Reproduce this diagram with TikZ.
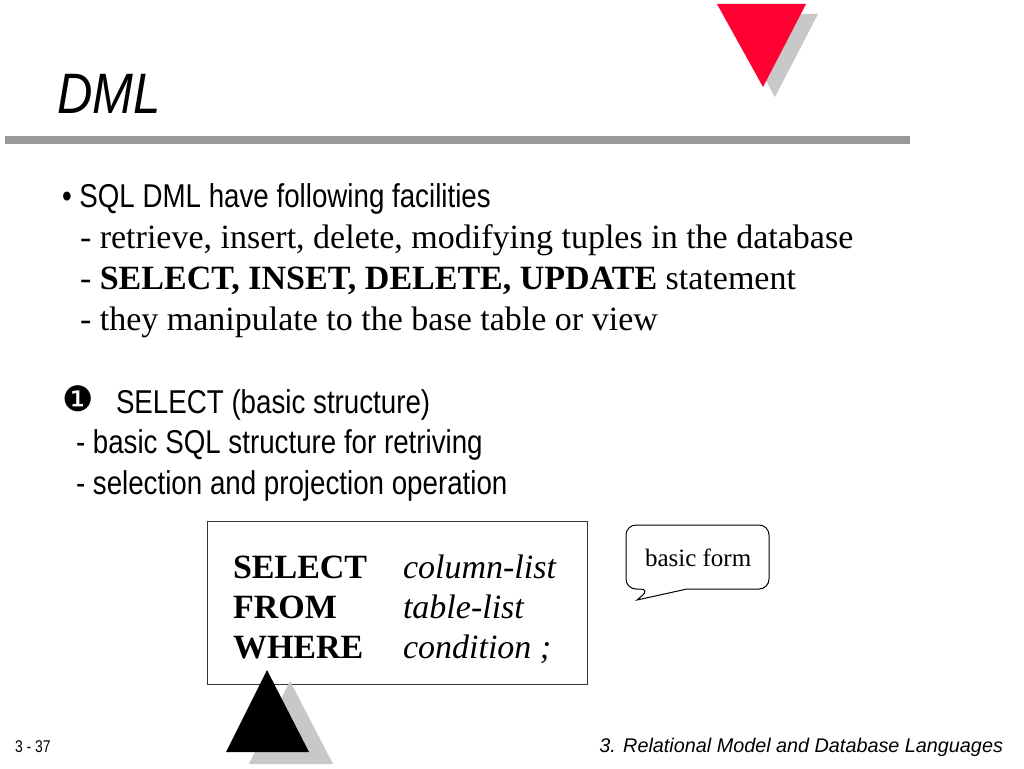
\documentclass[tikz,border=0pt]{standalone}
\usepackage{fontspec}
\setmainfont{Liberation Serif}
\newfontfamily\sansf{Liberation Sans}
\newfontfamily\titlef[FakeStretch=0.86]{Liberation Sans}
\newfontfamily\narrowf[FakeStretch=0.84]{Liberation Sans}
\newfontfamily\footf[FakeStretch=0.82]{Liberation Sans}
\newfontfamily\dingf{DejaVu Sans}
\definecolor{slidered}{HTML}{FF0033}
\definecolor{shadowgray}{HTML}{C8C8C8}
\definecolor{rulegray}{HTML}{999999}
\begin{document}
\begin{tikzpicture}[x=1pt,y=-1pt,
  txt/.style={anchor=base west,inner sep=0pt,outer sep=0pt},
  narrowtxt/.style={txt,font=\narrowf\fontsize{33}{38}\selectfont},
  seriftxt/.style={txt,font=\fontsize{34}{40}\selectfont},
  keytxt/.style={txt,font=\bfseries\fontsize{34}{40}\selectfont},
  valtxt/.style={txt,font=\itshape\fontsize{34}{40}\selectfont},
  foot/.style={txt,font=\footf\fontsize{17}{20}\selectfont}]
\useasboundingbox (0,0) rectangle (1024,768);
\fill[white] (0,0) rectangle (1024,768);
% title and rule
\node[txt,font=\titlef\itshape\fontsize{57}{60}\selectfont] (title) at (57,113) {DML};
\fill[rulegray] (5,136) rectangle (910,144);
% red triangle with shadow
\fill[shadowgray] (729,14) -- (818,14) -- (775,97) -- cycle;
\fill[slidered] (717,4) -- (806,4) -- (763,87) -- cycle;
% bullet section
\node[narrowtxt] (b1) at (62,207) {\textbullet\ SQL DML have following facilities};
\node[seriftxt] (l1) at (80,248) {- retrieve, insert, delete, modifying tuples in the database};
\node[seriftxt] (l2) at (80,289) {- \textbf{SELECT, INSET, DELETE, UPDATE} statement};
\node[seriftxt] (l3) at (80,330) {- they manipulate to the base table or view};
% select section
\node[txt,font=\dingf\fontsize{35}{38}\selectfont] (num) at (62,411) {❶};
\node[narrowtxt] (s1) at (116,413) {SELECT (basic structure)};
\node[narrowtxt] (s2) at (76,453) {- basic SQL structure for retriving};
\node[narrowtxt] (s3) at (76,494) {- selection and projection operation};
% box
\draw[line width=1pt,draw=black!80] (207,521) rectangle (587,684);
\node[keytxt] (k1) at (233,578) {SELECT};
\node[keytxt] (k2) at (233,618) {FROM};
\node[keytxt] (k3) at (233,658) {WHERE};
\node[valtxt] (v1) at (403,578) {column-list};
\node[valtxt] (v2) at (403,618) {table-list};
\node[valtxt] (v3) at (403,658) {condition ;};
% callout
\draw[line width=1pt] (650,589) -- (637,600) -- (687,589) [rounded corners=10pt] -- (769,589) -- (769,525) -- (626,525) -- (626,589) -- cycle;
\node[txt,font=\fontsize{25}{30}\selectfont] (bf) at (645,566) {basic form};
% black triangle with shadow
\fill[shadowgray] (290,681) -- (249,764) -- (333,764) -- cycle;
\fill[black] (267,670) -- (226,752) -- (309,752) -- cycle;
% footer
\node[foot] (pg) at (15,752) {3 - 37};
\node[txt,font=\sansf\itshape\fontsize{19.8}{24}\selectfont,anchor=base east] (ft) at (1003,752) {3. Relational Model and Database Languages};
\end{tikzpicture}
\end{document}
